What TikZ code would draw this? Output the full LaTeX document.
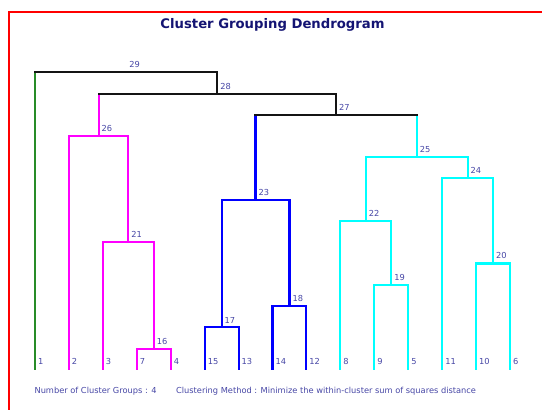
\documentclass[tikz,border=0pt]{standalone}
\usepackage{fontspec}
\setmainfont{DejaVu Sans}
\definecolor{frame_red}{RGB}{255,0,0}
\definecolor{title_navy}{RGB}{20,20,115}
\definecolor{text_blue}{RGB}{70,70,165}
\definecolor{line_green}{RGB}{40,140,40}
\definecolor{line_magenta}{RGB}{255,0,255}
\definecolor{line_blue}{RGB}{0,0,255}
\definecolor{line_cyan}{RGB}{0,255,255}
\definecolor{line_black}{RGB}{20,20,20}

\begin{document}
\begin{tikzpicture}[x=0.75pt,y=-0.75pt,line width=1.6pt,line cap=rect]
    \tikzstyle{grn}=[draw=line_green]
    \tikzstyle{mag}=[draw=line_magenta]
    \tikzstyle{blu}=[draw=line_blue]
    \tikzstyle{cya}=[draw=line_cyan]
    \tikzstyle{blk}=[draw=line_black]
    \tikzstyle{num}=[anchor=south west, inner sep=0pt, text=text_blue, font=\fontsize{6.2}{7}\selectfont]
    \tikzstyle{lbl}=[style=num, xshift=1.5pt, yshift=2.5pt]
    \tikzstyle{leaflbl}=[style=num, xshift=1.5pt, yshift=2.6pt]
    \tikzstyle{note}=[anchor=west, inner sep=0pt, text=text_blue, font=\fontsize{6.2}{7}\selectfont]

    \useasboundingbox (0,0) rectangle (542,410);
    \draw[frame_red, line width=0.8pt, line cap=butt] (542,12) -| (9,410);

    \node[text=title_navy, font=\bfseries\fontsize{9.9}{12}\selectfont] (title) at (272.5,25) {Cluster Grouping Dendrogram};

    % leaves
    \coordinate (l1)  at (35.0,369);
    \coordinate (l2)  at (68.9,369);
    \coordinate (l3)  at (102.9,369);
    \coordinate (l7)  at (136.8,369);
    \coordinate (l4)  at (170.7,369);
    \coordinate (l15) at (204.7,369);
    \coordinate (l13) at (238.6,369);
    \coordinate (l14) at (272.5,369);
    \coordinate (l12) at (306.4,369);
    \coordinate (l8)  at (340.4,369);
    \coordinate (l9)  at (374.3,369);
    \coordinate (l5)  at (408.2,369);
    \coordinate (l11) at (442.2,369);
    \coordinate (l10) at (476.1,369);
    \coordinate (l6)  at (510.0,369);

    % merges
    \coordinate (m16) at (153.8,348.7);
    \coordinate (m17) at (221.6,327.4);
    \coordinate (m18) at (289.5,306.1);
    \coordinate (m19) at (391.3,284.8);
    \coordinate (m20) at (493.1,263.5);
    \coordinate (m21) at (128.3,242.2);
    \coordinate (m22) at (365.8,220.9);
    \coordinate (m23) at (255.5,199.6);
    \coordinate (m24) at (467.6,178.3);
    \coordinate (m25) at (416.7,157.0);
    \coordinate (m26) at (98.6,135.7);
    \coordinate (m27) at (336.1,114.6);
    \coordinate (m28) at (217.4,93.6);
    \coordinate (m29) at (126.2,72.0);

    \draw[mag] (l7) |- (m16) -| (l4);
    \draw[mag] (l3) |- (m21) -| (m16);
    \draw[mag] (l2) |- (m26) -| (m21);
    \draw[mag] (m26) -- (m26 |- m28);

    \draw[blu] (l15) |- (m17) -| (l13);
    \draw[blu] (l14) |- (m18) -| (l12);
    \draw[blu] (m17) |- (m23) -| (m18);
    \draw[blu] (m23) -- (m23 |- m27);

    \draw[cya] (l9) |- (m19) -| (l5);
    \draw[cya] (l10) |- (m20) -| (l6);
    \draw[cya] (l8) |- (m22) -| (m19);
    \draw[cya] (l11) |- (m24) -| (m20);
    \draw[cya] (m22) |- (m25) -| (m24);
    \draw[cya] (m25) -- (m25 |- m27);

    \draw[grn] (l1) -- (l1 |- m29);

    \draw[blk] (m23 |- m27) -- (m25 |- m27);
    \draw[blk] (m26 |- m28) -| (m27);
    \draw[blk] (l1 |- m29) -| (m28);

    \foreach \k in {16,...,29}
      \node[lbl] (n\k) at (m\k) {\k};

    \foreach \lf in {1,2,3,7,4,15,13,14,12,8,9,5,11,10,6}
      \node[leaflbl] (t\lf) at (l\lf) {\lf};

    \node[note] (groups) at (33.5,391.5) {Number of Cluster Groups : 4};
    \node[note] (method) at (175,391.5) {Clustering Method : Minimize the within-cluster sum of squares distance};
\end{tikzpicture}
\end{document}
